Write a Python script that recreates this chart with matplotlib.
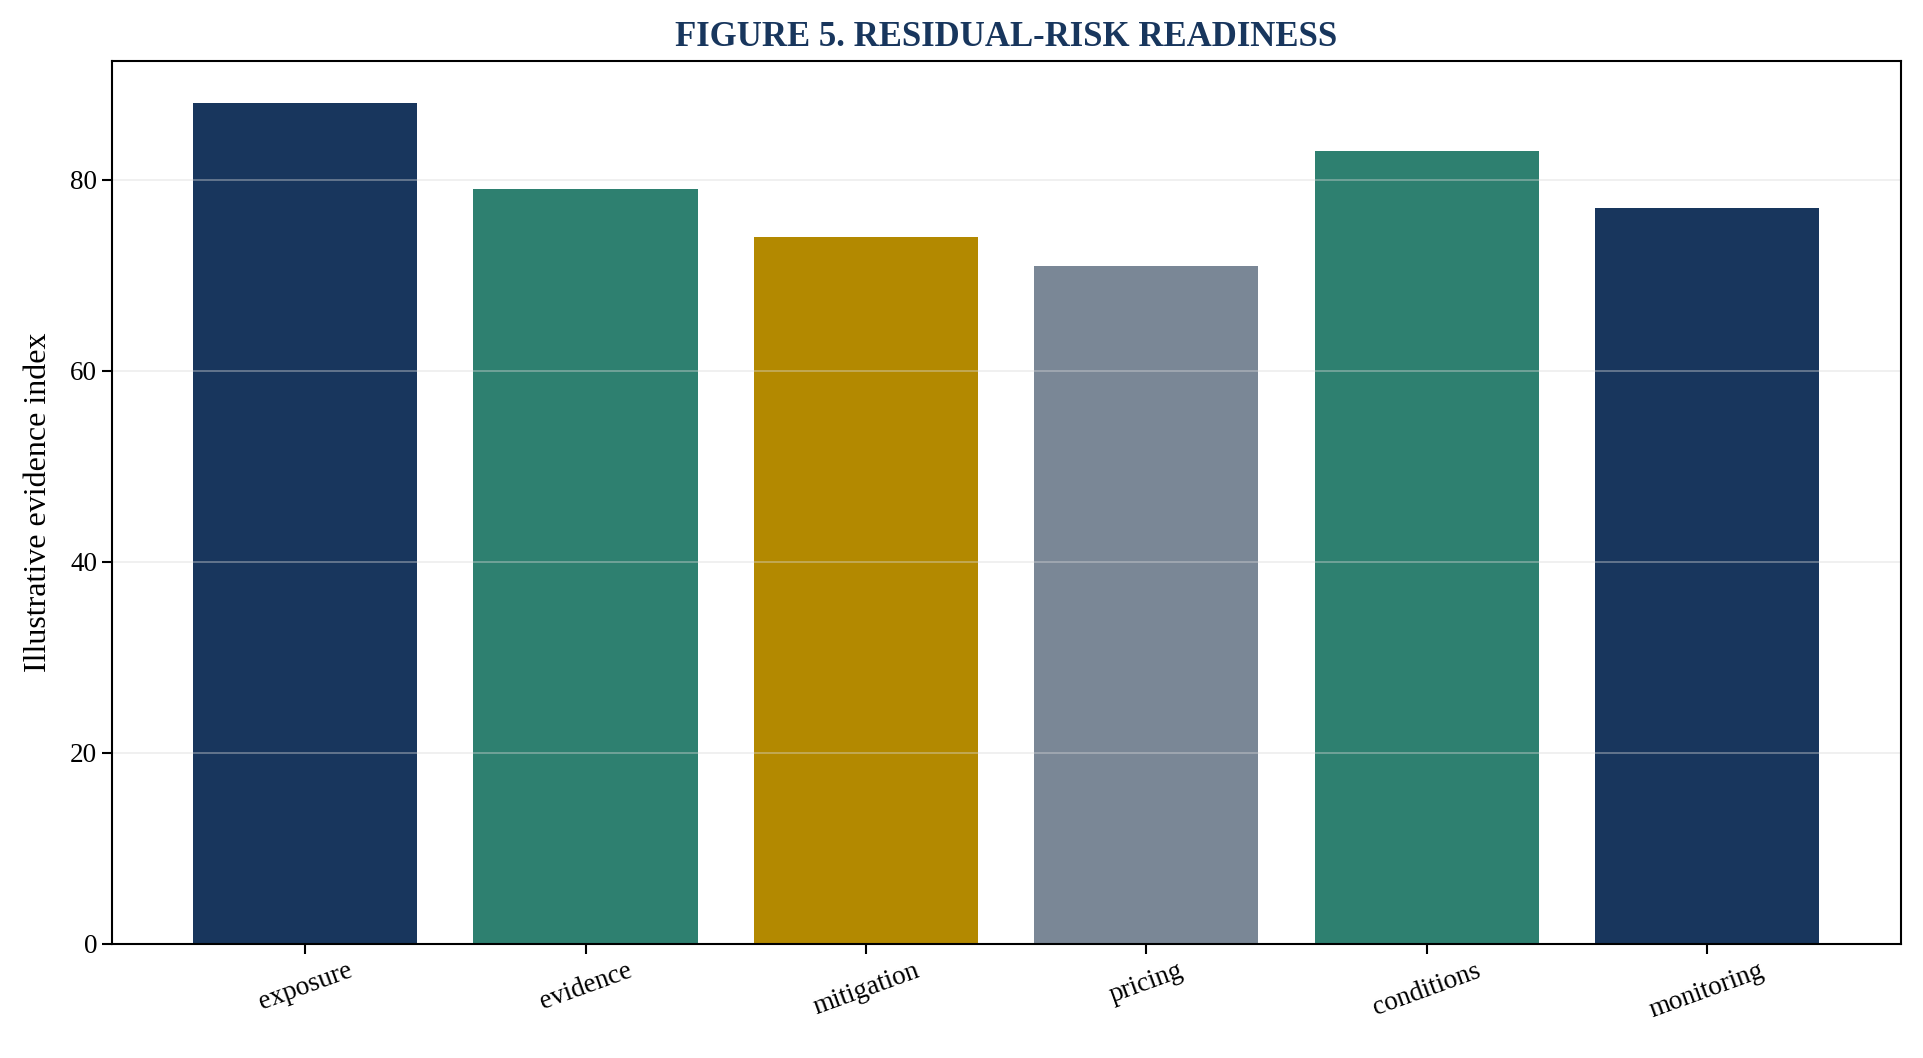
import matplotlib
matplotlib.use('Agg')
import matplotlib.pyplot as plt

# chart data
categories = ['exposure', 'evidence', 'mitigation', 'pricing', 'conditions', 'monitoring']
values = [88, 79, 74, 71, 83, 77]
bar_colors = ['#18365d', '#2e8070', '#b38900', '#7a8796', '#2e8070', '#18365d']
y_ticks = [0, 20, 40, 60, 80]

plt.rcParams['font.family'] = ['Liberation Serif', 'DejaVu Serif']

fig, ax = plt.subplots(figsize=(19.24, 10.58), dpi=100)
fig.subplots_adjust(left=0.0581, right=0.9878, top=0.942, bottom=0.108)

x = range(len(categories))
ax.bar(x, values, color=bar_colors, width=0.8)

ax.set_ylim(0, max(values) * 1.05)
ax.set_yticks(y_ticks)
ax.set_xticks(list(x))
ax.set_xticklabels(categories, rotation=20, ha='center')

ax.grid(axis='y', color='#d9d9d9', alpha=0.45, linewidth=1.2)

for spine in ax.spines.values():
    spine.set_linewidth(1.5)
    spine.set_color('black')
ax.tick_params(axis='both', labelsize=19.5, length=7, width=1.5)

ax.set_ylabel('Illustrative evidence index', fontsize=23, labelpad=12)
ax.set_title('FIGURE 5. RESIDUAL-RISK READINESS', fontsize=25, fontweight='bold',
             color='#18365d', pad=11)

plt.savefig('out.png', dpi=100)
